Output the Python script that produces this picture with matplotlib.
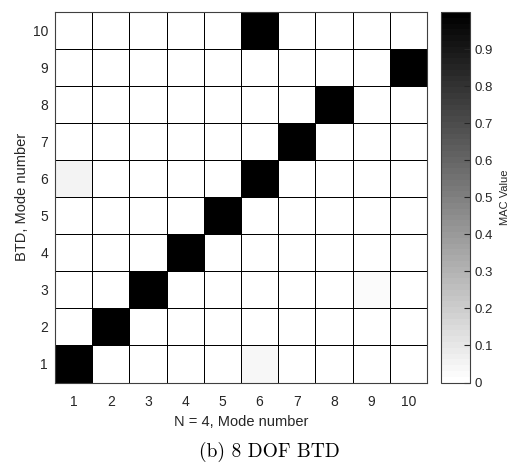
import matplotlib.pyplot as plt
import numpy as np
from matplotlib import colors

# MAC matrix: rows = BTD modes (1..10, bottom to top), cols = N = 4 modes (1..10)
n_modes = 10
mode_numbers = list(range(1, n_modes + 1))

# Strongly correlated (row, col) pairs and their MAC values
pair_rows = [1, 2, 3, 4, 5, 6, 7, 8, 9, 10]
pair_cols = [1, 2, 3, 4, 5, 6, 7, 8, 10, 6]
pair_vals = [1.0, 1.0, 1.0, 1.0, 1.0, 1.0, 1.0, 1.0, 1.0, 1.0]

# Weak off-diagonal correlations
weak_rows = [6, 1, 3]
weak_cols = [1, 6, 9]
weak_vals = [0.06, 0.045, 0.03]

cbar_ticks = [0, 0.1, 0.2, 0.3, 0.4, 0.5, 0.6, 0.7, 0.8, 0.9]

mac = np.zeros((n_modes, n_modes))
for r, c, v in zip(pair_rows + weak_rows, pair_cols + weak_cols, pair_vals + weak_vals):
  mac[r - 1, c - 1] = v

W, H = 515, 468
fig = plt.figure(figsize=(W / 100, H / 100), dpi=100)
plt.rcParams["font.family"] = ["Liberation Sans", "DejaVu Sans"]

ax = fig.add_axes([55 / W, (H - 382.5) / H, 372 / W, 370.5 / H])
cax = fig.add_axes([441 / W, (H - 382.5) / H, 29 / W, 370.5 / H])

# 64-level flipped gray map, white = 0, black = 1
cmap = plt.get_cmap("gray_r", 64)
norm = colors.Normalize(vmin=0, vmax=1.0)

edges = np.arange(0.5, n_modes + 1, 1.0)
mesh = ax.pcolormesh(edges, edges, mac, cmap=cmap, norm=norm,
                     edgecolors="black", linewidth=0.6)
ax.set_xlim(0.5, n_modes + 0.5)
ax.set_ylim(0.5, n_modes + 0.5)
ax.set_xticks(mode_numbers)
ax.set_yticks(mode_numbers)
ax.tick_params(axis="x", length=0, labelsize=10, pad=9, colors="#262626")
ax.tick_params(axis="y", length=0, labelsize=10, pad=5, colors="#262626")
for s in ax.spines.values():
  s.set_color("#404040")
  s.set_linewidth(0.8)

ax.set_xlabel("N = 4, Mode number", fontsize=10.5, labelpad=4, color="#262626")
ax.set_ylabel("BTD, Mode number", fontsize=10.5, labelpad=3, color="#262626")

cb = fig.colorbar(mesh, cax=cax, ticks=cbar_ticks)
cb.outline.set_edgecolor("#404040")
cb.outline.set_linewidth(0.8)
cax.tick_params(direction="in", length=4, labelsize=9.5, colors="#262626", width=0.8)
cax.set_yticklabels(["0" if t == 0 else f"{t:.1f}" for t in cbar_ticks])
cb.set_label("MAC Value", fontsize=8, labelpad=5, color="#262626")

fig.text(0.5 + 12 / W, 1 - 452 / H, "(b) 8 DOF BTD", ha="center", va="center",
         fontsize=14, family=["cmr10", "DejaVu Serif"])

fig.savefig("out.png", dpi=100)
